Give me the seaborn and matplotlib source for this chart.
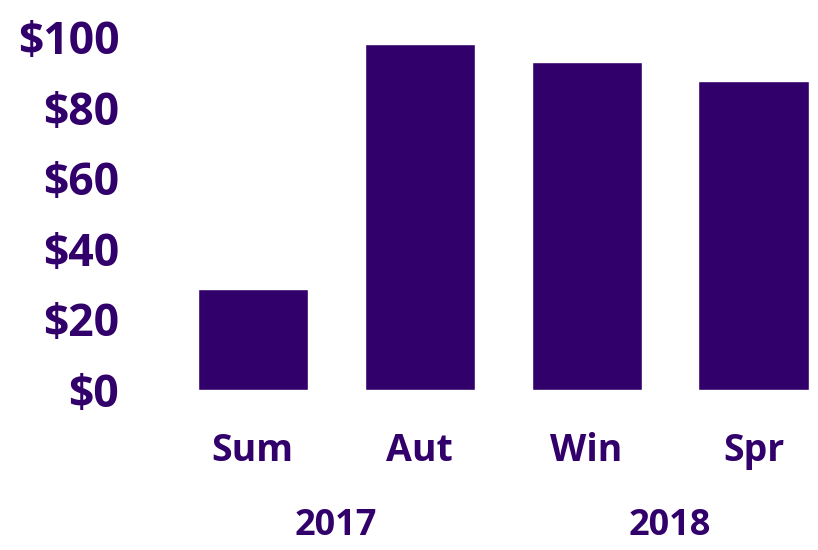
import matplotlib
matplotlib.use("Agg")
import matplotlib.pyplot as plt
import seaborn as sns
import pandas as pd

seasons = ["Sum", "Aut", "Win", "Spr"]
values = [28.5, 98, 93, 87.5]
years = ["2017", "2018"]
year_groups = [(0, 1), (2, 3)]

purple = "#31006b"

sns.set_theme(style="white")
plt.rcParams["font.family"] = ["Open Sans", "DejaVu Sans"]

df = pd.DataFrame({"season": seasons, "value": values})

fig = plt.figure(figsize=(8.18, 5.5), dpi=100)
ax = fig.add_axes([186 / 818, 160 / 550, 626 / 818, 353 / 550])

sns.barplot(data=df, x="season", y="value", color=purple, width=0.66,
            saturation=1, ax=ax)

ax.set_xlim(-0.4, 3.35)
ax.set_ylim(0, 100)
ax.set_yticks(range(0, 101, 20))
ax.set_yticklabels([f"${v}" for v in range(0, 101, 20)])
ax.set_xlabel("")
ax.set_ylabel("")
sns.despine(ax=ax, left=True, bottom=True)
ax.tick_params(axis="both", length=0, labelcolor=purple)
ax.tick_params(axis="y", labelsize=32, pad=48)
ax.tick_params(axis="x", labelsize=27, pad=30)
for lab in ax.get_xticklabels() + ax.get_yticklabels():
    lab.set_fontweight("bold")

for year, (a, b) in zip(years, year_groups):
    ax.text((a + b) / 2, -0.385, year, transform=ax.get_xaxis_transform(),
            ha="center", va="center", fontsize=26, fontweight="bold", color=purple)

fig.savefig("out.png", dpi=100)
